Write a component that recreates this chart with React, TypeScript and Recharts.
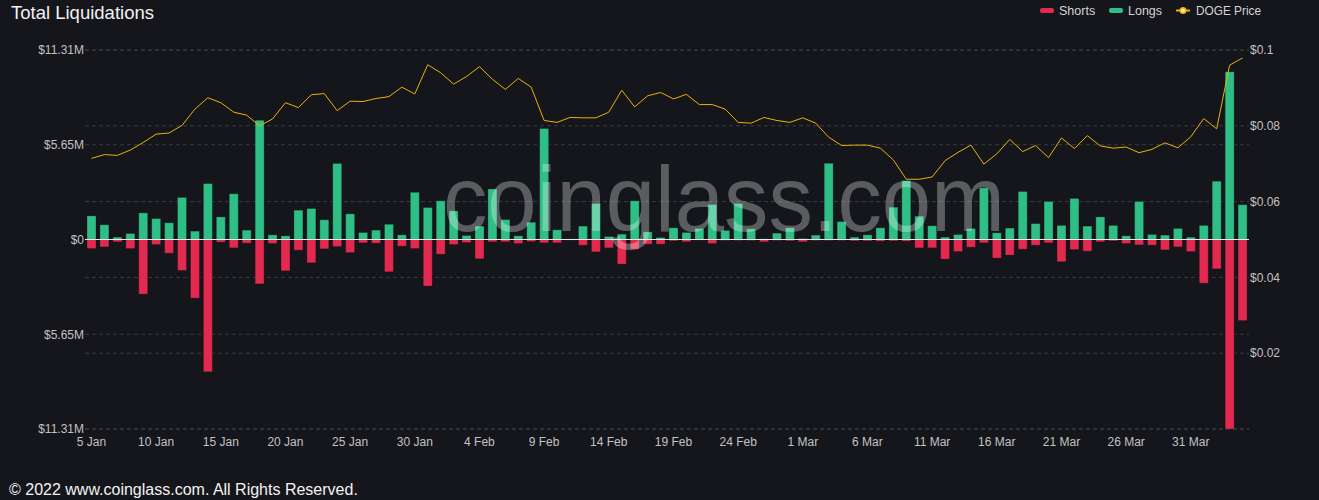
import React from 'react';
import {
  ComposedChart, Bar, Line, XAxis, YAxis, CartesianGrid, ReferenceLine,
} from 'recharts';

const dates = [
  '5 Jan','6 Jan','7 Jan','8 Jan','9 Jan','10 Jan','11 Jan','12 Jan','13 Jan','14 Jan',
  '15 Jan','16 Jan','17 Jan','18 Jan','19 Jan','20 Jan','21 Jan','22 Jan','23 Jan','24 Jan',
  '25 Jan','26 Jan','27 Jan','28 Jan','29 Jan','30 Jan','31 Jan','1 Feb','2 Feb','3 Feb',
  '4 Feb','5 Feb','6 Feb','7 Feb','8 Feb','9 Feb','10 Feb','11 Feb','12 Feb','13 Feb',
  '14 Feb','15 Feb','16 Feb','17 Feb','18 Feb','19 Feb','20 Feb','21 Feb','22 Feb','23 Feb',
  '24 Feb','25 Feb','26 Feb','27 Feb','28 Feb','1 Mar','2 Mar','3 Mar','4 Mar','5 Mar',
  '6 Mar','7 Mar','8 Mar','9 Mar','10 Mar','11 Mar','12 Mar','13 Mar','14 Mar','15 Mar',
  '16 Mar','17 Mar','18 Mar','19 Mar','20 Mar','21 Mar','22 Mar','23 Mar','24 Mar','25 Mar',
  '26 Mar','27 Mar','28 Mar','29 Mar','30 Mar','31 Mar','1 Apr','2 Apr','3 Apr','4 Apr',
];

// Long liquidations, $M
const longs = [
  1.41, 0.88, 0.14, 0.36, 1.59, 1.25, 1.00, 2.51, 0.50, 3.34,
  1.35, 2.73, 0.56, 7.12, 0.28, 0.22, 1.75, 1.85, 1.18, 4.54,
  1.53, 0.42, 0.56, 0.91, 0.28, 2.82, 1.91, 2.31, 1.71, 0.24,
  0.80, 3.02, 1.19, 0.22, 1.03, 6.62, 0.58, 0.04, 0.80, 2.15,
  0.18, 0.32, 2.31, 0.46, 0.12, 0.70, 0.42, 0.66, 2.09, 0.54,
  2.15, 0.64, 0.04, 0.38, 0.70, 0.06, 0.26, 4.55, 1.07, 0.14,
  0.28, 0.70, 1.93, 3.52, 1.39, 0.82, 0.14, 0.30, 0.66, 3.08,
  0.40, 0.68, 2.86, 0.95, 2.27, 0.84, 2.45, 0.80, 1.35, 0.84,
  0.22, 2.27, 0.30, 0.26, 0.66, 0.14, 0.84, 3.48, 10.01, 2.08,
];

// Short liquidations, $M
const shorts = [
  0.54, 0.44, 0.14, 0.54, 3.26, 0.30, 0.82, 1.85, 3.50, 7.90,
  0.16, 0.50, 0.22, 2.65, 0.24, 1.87, 0.64, 1.39, 0.56, 0.42,
  0.78, 0.20, 0.22, 1.93, 0.40, 0.54, 2.78, 0.88, 0.30, 0.18,
  1.15, 0.14, 0.14, 0.24, 0.12, 0.20, 0.20, 0.04, 0.34, 0.74,
  0.50, 1.47, 0.58, 0.28, 0.28, 0.08, 0.14, 0.04, 0.24, 0.06,
  0.06, 0.06, 0.14, 0.06, 0.08, 0.14, 0.06, 0.06, 0.06, 0.08,
  0.08, 0.10, 0.08, 0.10, 0.50, 0.50, 1.17, 0.72, 0.46, 0.20,
  1.11, 0.93, 0.58, 0.34, 0.20, 1.33, 0.60, 0.70, 0.14, 0.08,
  0.24, 0.32, 0.34, 0.62, 0.44, 0.72, 2.61, 1.75, 11.31, 4.84,
];

// DOGE price, $
const prices = [
  0.0714, 0.0724, 0.0722, 0.0736, 0.0756, 0.0778, 0.0781, 0.0801, 0.0844, 0.0874,
  0.0861, 0.0836, 0.0828, 0.0800, 0.0818, 0.0861, 0.0848, 0.0882, 0.0885, 0.0840,
  0.0865, 0.0864, 0.0872, 0.0877, 0.0902, 0.0884, 0.0961, 0.0940, 0.0910, 0.0930,
  0.0956, 0.0923, 0.0896, 0.0925, 0.0902, 0.0814, 0.0809, 0.0822, 0.0821, 0.0821,
  0.0836, 0.0894, 0.0850, 0.0879, 0.0888, 0.0871, 0.0883, 0.0856, 0.0856, 0.0844,
  0.0809, 0.0807, 0.0822, 0.0814, 0.0809, 0.0821, 0.0807, 0.0770, 0.0748, 0.0749,
  0.0749, 0.0741, 0.0710, 0.0659, 0.0659, 0.0665, 0.0708, 0.0730, 0.0749, 0.0699,
  0.0726, 0.0764, 0.0732, 0.0748, 0.0716, 0.0768, 0.0740, 0.0774, 0.0747, 0.0741,
  0.0744, 0.0729, 0.0738, 0.0755, 0.0742, 0.0771, 0.0819, 0.0792, 0.0960, 0.0979,
];

const leftTicks = [-11.31, -5.655, 0, 5.655, 11.31];
const leftTickLabels = ['$11.31M', '$5.65M', '$0', '$5.65M', '$11.31M'];
const rightTicks = [0, 0.02, 0.04, 0.06, 0.08, 0.1];
const rightTickLabels = ['', '$0.02', '$0.04', '$0.06', '$0.08', '$0.1'];

const BG = '#15161b';
const GREEN = '#2ebe86';
const RED = '#e2294f';
const GOLD = '#e9b10c';
const GRID = '#3a3b41';
const FONT = '"Liberation Sans", Arial, sans-serif';

const data = dates.map((d, i) => ({
  date: d,
  longs: longs[i],
  shorts: -shorts[i],
  price: prices[i],
}));

export default function App() {
  return (
    <div style={{ position: 'absolute', left: 0, top: 0, width: 1319, height: 500, background: BG, overflow: 'hidden' }}>
      <ComposedChart
        width={1319}
        height={500}
        data={data}
        margin={{ top: 50, right: 0, bottom: 41, left: 8 }}
        stackOffset="sign"
      >
        <CartesianGrid yAxisId="left" vertical={false} stroke={GRID} strokeDasharray="4 3" />
        <CartesianGrid yAxisId="right" vertical={false} stroke={GRID} strokeDasharray="4 3" />
        <XAxis
          dataKey="date"
          interval={4}
          tickLine={false}
          axisLine={false}
          height={30}
          tick={{ fill: '#c2c2c2', fontSize: 12, fontFamily: FONT }}
        />
        <YAxis
          yAxisId="left"
          orientation="left"
          width={77}
          domain={[-11.31, 11.31]}
          ticks={leftTicks}
          tickFormatter={(v: number) => leftTickLabels[leftTicks.indexOf(v)] ?? ''}
          tickLine={false}
          axisLine={false}
          tickSize={0}
          tickMargin={1}
          tick={{ fill: '#c2c2c2', fontSize: 12, fontFamily: FONT }}
          allowDataOverflow
        />
        <YAxis
          yAxisId="right"
          orientation="right"
          width={70}
          domain={[0, 0.1]}
          ticks={rightTicks}
          tickFormatter={(v: number) => rightTickLabels[rightTicks.indexOf(v)] ?? ''}
          tickLine={false}
          axisLine={false}
          tickSize={0}
          tickMargin={1}
          tick={{ fill: '#c2c2c2', fontSize: 12, fontFamily: FONT }}
          allowDataOverflow
        />
        <Bar yAxisId="left" dataKey="longs" stackId="liq" fill={GREEN} barSize={9}
          stroke="rgba(0,0,0,0.25)" strokeWidth={1} isAnimationActive={false} />
        <Bar yAxisId="left" dataKey="shorts" stackId="liq" fill={RED} barSize={9}
          stroke="rgba(0,0,0,0.25)" strokeWidth={1} isAnimationActive={false} />
        <ReferenceLine yAxisId="left" y={0} stroke="#e8e8e8" strokeWidth={1} />
        <Line yAxisId="right" dataKey="price" type="linear" stroke={GOLD} strokeWidth={1}
          dot={false} activeDot={false} isAnimationActive={false} />
      </ComposedChart>
      <svg width={1319} height={500} style={{ position: 'absolute', left: 0, top: 0, pointerEvents: 'none' }}>
        <text x={11} y={18.5} fill="#f2f2f2" fontSize={18.5} fontFamily={FONT}>Total Liquidations</text>
        <g fontFamily={FONT} fontSize={12.5} fill="#d4d4d4">
          <rect x={1040} y={8} width={14} height={5} rx={2} fill={RED} />
          <text x={1059} y={14.5}>Shorts</text>
          <rect x={1109} y={8} width={14} height={5} rx={2} fill={GREEN} />
          <text x={1128} y={14.5}>Longs</text>
          <line x1={1176} y1={10.5} x2={1190} y2={10.5} stroke={GOLD} strokeWidth={2} />
          <circle cx={1183} cy={10.5} r={2.8} fill="#fde9a0" stroke={GOLD} strokeWidth={1.5} />
          <text x={1196} y={14.5} textLength={65} lengthAdjust="spacingAndGlyphs">DOGE Price</text>
        </g>
        <text x={443} y={231} fill="rgba(255,255,255,0.3)" fontSize={92} fontFamily={FONT}
          textLength={562} lengthAdjust="spacingAndGlyphs">coinglass.com</text>
        <text x={9} y={495} fill="#f2f2f2" fontSize={16} fontFamily={FONT}>© 2022 www.coinglass.com. All Rights Reserved.</text>
      </svg>
    </div>
  );
}
